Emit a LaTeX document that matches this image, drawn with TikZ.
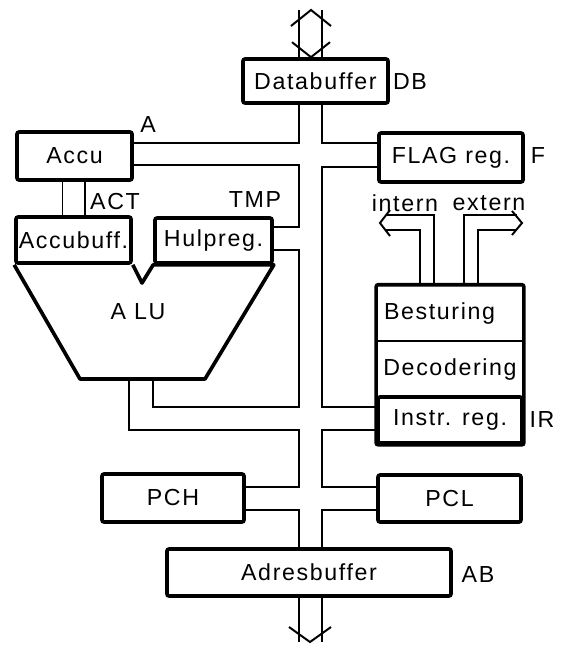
\documentclass[tikz,border=0pt]{standalone}
\usepackage{fontspec}
\setmainfont[LetterSpace=7]{Liberation Sans}
\usetikzlibrary{calc,fit}
\newcommand{\lettrs}{\fontsize{16.5}{19}\selectfont}

\begin{document}
\begin{tikzpicture}[
      x=0.25mm, y=-0.25mm,
      block/.style={draw, rectangle, rounded corners=1.5pt, line width=2.6pt, inner sep=0pt, align=center, font=\lettrs},
      lbl/.style={inner sep=0pt, font=\lettrs},
      bus/.style={line width=1.4pt},
      thickline/.style={line width=2.6pt, line join=round}
    ]
    \useasboundingbox (0,0) rectangle (564,646);

    \coordinate (bl) at (299,0);
    \coordinate (br) at (322,0);

    \node[block, minimum width=36.25mm, minimum height=11mm] (db) at (315.5,81) {Databuffer};
    \node[block, minimum width=28.75mm, minimum height=12mm] (accu) at (74.5,156) {Accu};
    \node[block, minimum width=36mm, minimum height=12.25mm] (flag) at (451,157.5) {FLAG reg.};
    \node[block, minimum width=28.75mm, minimum height=11.5mm] (accb) at (73.5,240) {Accubuff.};
    \node[block, minimum width=29.25mm, minimum height=11.25mm] (hulp) at (213.5,240.5) {Hulpreg.};
    \node[lbl, minimum width=36mm, minimum height=14mm, text width=33mm, align=left] (bes) at (450,313) {Besturing};
    \node[lbl, minimum width=36mm, minimum height=14mm] (dec) at (450,369) {Decodering};
    \node[block, minimum width=36mm, minimum height=11.5mm] (ir) at (450,420) {Instr. reg.};
    \node[draw, rectangle, rounded corners=1.5pt, line width=2.6pt, inner sep=0pt, fit=(bes)(ir)] (ctrl) {};
    \node[block, minimum width=35.5mm, minimum height=12mm] (pch) at (173,498) {PCH};
    \node[block, minimum width=35.75mm, minimum height=11.75mm] (pcl) at (449.5,498.5) {PCL};
    \node[block, minimum width=71mm, minimum height=11.75mm] (ab) at (309,572.5) {Adresbuffer};

    \node[lbl] (dblbl) at (410,82) {DB};
    \node[lbl] (albl) at (148,125) {A};
    \node[lbl] (flbl) at (538,156) {F};
    \node[lbl] (actlbl) at (115,202) {ACT};
    \node[lbl] (tmplbl) at (255,200) {TMP};
    \node[lbl] (irlbl) at (542,420) {IR};
    \node[lbl] (ablbl) at (478,575) {AB};
    \node[lbl] (intern) at (405,203) {intern};
    \node[lbl] (extern) at (489,203) {extern};

    \coordinate (alubl) at (80,379);
    \coordinate (alubr) at (205,379);
    \coordinate (notch) at (142,283);
    \coordinate (aluA) at (153,379);
    \coordinate (aluB) at (129,379);
    \draw[thickline] (accb.south west) -- (alubl) -- (alubr) -- (hulp.south east) -- (hulp.south west) -- (notch) -- (accb.south east);
    \node[lbl] (alu) at (138,312) {A LU};

    \draw[bus] ($(accu.south)+(-12,0)$) -- ($(accb.north)+(-11,0)$);
    \draw[bus] ($(accu.south)+(10.5,0)$) -- ($(accb.north)+(11.5,0)$);
    \draw[bus] (bes.south west) -- (bes.south east);

    \draw[bus] (bl |- db.south) |- ([yshift=3.25mm]accu.east);
    \draw[bus] ([yshift=-2.25mm]accu.east) -| ([yshift=3.4mm]bl |- hulp.east) -- ([yshift=3.4mm]hulp.east);
    \draw[bus] ([yshift=-2.4mm]hulp.east) -| ([yshift=3.25mm]bl |- ir.west) -| (aluA);
    \draw[bus] (aluB) |- ([yshift=-2.5mm]bl |- ir.west) |- ([yshift=2.75mm]pch.east);
    \draw[bus] ([yshift=-3mm]pch.east) -| (bl |- ab.north);

    \draw[bus] (br |- db.south) |- ([yshift=3.6mm]flag.west);
    \draw[bus] ([yshift=-2.4mm]flag.west) -| ([yshift=3.25mm]br |- ir.west) -- ([yshift=3.25mm]ir.west);
    \draw[bus] ([yshift=-2.5mm]ir.west) -| ([yshift=2.9mm]br |- pcl.west) -- ([yshift=2.9mm]pcl.west);
    \draw[bus] ([yshift=-2.9mm]pcl.west) -| (br |- ab.north);

    \coordinate (dtip) at (311,10);
    \draw[bus] (bl |- dtip) -- (bl |- db.north);
    \draw[bus] (br |- dtip) -- (br |- db.north);
    \draw[bus] ($(dtip)+(-20,16)$) -- (dtip) -- ++(20,16);
    \draw[bus] ($(dtip |- db.north)+(-19,-15)$) -- (dtip |- db.north) -- ++(19,-15);

    \coordinate (atip) at (310,642);
    \draw[bus] (bl |- ab.south) -- (bl |- atip);
    \draw[bus] (br |- ab.south) -- (br |- atip);
    \draw[bus] ($(atip)+(-21,-15)$) -- (atip) -- ++(21,-15);

    \coordinate (itip) at (380,223);
    \draw[bus] ($(bes.north)+(-16,0)$) |- ($(itip)+(6,-8)$);
    \draw[bus] ($(bes.north)+(-30,0)$) |- ($(itip)+(6,7)$);
    \draw[bus] ($(itip)+(10,-13)$) -- (itip) -- ++(10,13);

    \coordinate (etip) at (522,223);
    \draw[bus] ($(bes.north)+(14,0)$) |- ($(etip)+(-5,-8)$);
    \draw[bus] ($(bes.north)+(28,0)$) |- ($(etip)+(-5,7)$);
    \draw[bus] ($(etip)+(-10,-12)$) -- (etip) -- ++(-10,12);
  \end{tikzpicture}
\end{document}
